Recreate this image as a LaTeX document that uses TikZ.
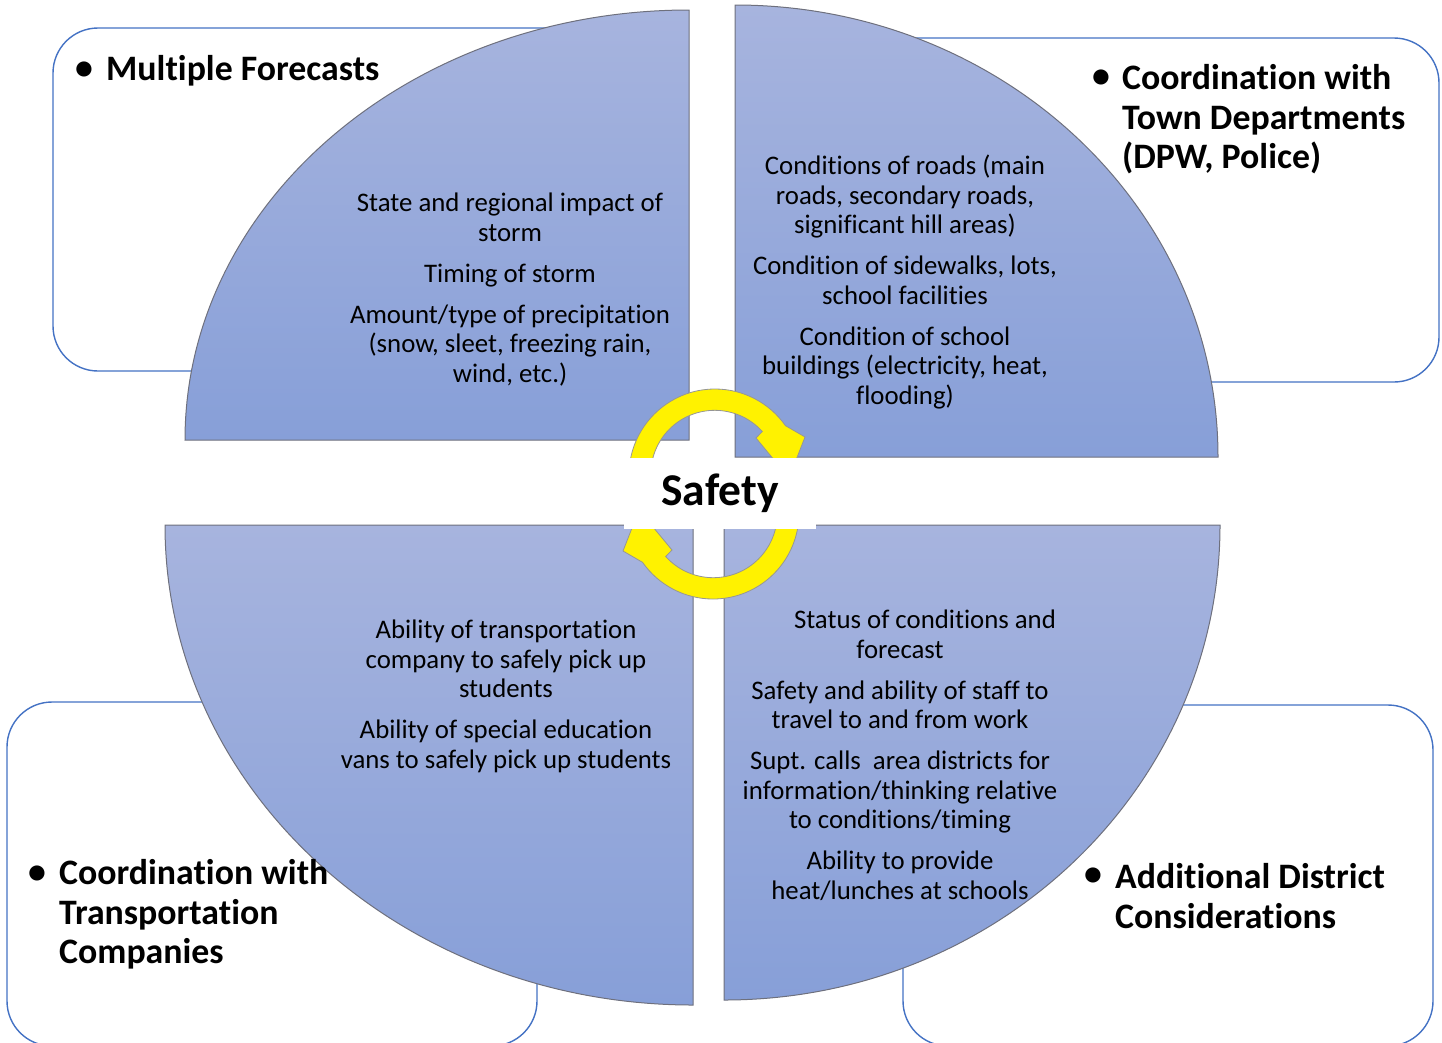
\documentclass[tikz,border=0pt]{standalone}
\usepackage{fontspec}
\setmainfont{Carlito}[Ligatures=NoCommon]
\definecolor{boxblue}{HTML}{4472C4}
\definecolor{qtop}{RGB}{167,180,222}
\definecolor{qbot}{RGB}{135,159,216}
\definecolor{qline}{RGB}{110,112,125}
\definecolor{arrowline}{RGB}{150,150,150}
\begin{document}
\begin{tikzpicture}[x=1pt,y=-1pt,
  outerbox/.style={draw=boxblue, line width=1.4pt, fill=white, rounded corners=45pt},
  quarter/.style={draw=qline, line width=1pt, top color=qtop, bottom color=qbot},
  cyc/.style={draw=arrowline, line width=0.8pt, fill=yellow},
  body/.style={align=center, font=\fontsize{26.8}{29.5}\selectfont, inner sep=0pt},
  head/.style={align=left, anchor=west, font=\bfseries\fontsize{35.8}{39.5}\selectfont, inner sep=0pt},
  bul/.style={font=\bfseries\fontsize{35.8}{40}\selectfont, inner sep=0pt}]
\useasboundingbox (0,0) rectangle (1442,1042);
\clip (0,0) rectangle (1442,1042);
% outer rounded boxes
\draw[outerbox] (53,28) rectangle (640,371);
\draw[outerbox] (800,38) rectangle (1439,382);
\draw[outerbox] (7,702) rectangle (537,1046);
\draw[outerbox] (903,705) rectangle (1433,1046);
% quarters
\path[quarter] (689,440) -- (185,440) arc[start angle=180, end angle=270, x radius=504, y radius=430] -- cycle;
\path[quarter] (735,457) -- (735,5) arc[start angle=270, end angle=360, x radius=483, y radius=452] -- cycle;
\path[quarter] (693,525) -- (165,525) arc[start angle=180, end angle=90, x radius=528, y radius=480] -- cycle;
\path[quarter] (724,525) -- (1220,525) arc[start angle=0, end angle=90, x radius=496, y radius=475] -- cycle;
% circular arrows
\path[cyc] (629,475) arc[start angle=180, end angle=325, radius=86] -- (805,437) -- (789,478) -- (756,438) -- (762.3,431.5) arc[start angle=318, end angle=180, radius=64] -- cycle;
\path[cyc] (799,513) arc[start angle=0, end angle=145, radius=86] -- (623,551) -- (639,510) -- (672,550) -- (665.7,556.5) arc[start angle=138, end angle=0, radius=64] -- cycle;
% centre label
\node[fill=white, inner sep=0pt, minimum width=192pt, minimum height=71pt, font=\bfseries\fontsize{45.5}{50}\selectfont] (safety) at (720,493) {Safety};
% body texts
\node[body] (tltext) at (510,289.5) {State and regional impact of\\ storm\\[11.5pt] Timing of storm\\[11.5pt] Amount/type of precipitation\\ (snow, sleet, freezing rain,\\ wind, etc.)};
\node[body] (trtext) at (905,282) {Conditions of roads (main\\ roads, secondary roads,\\ significant hill areas)\\[11.5pt] Condition of sidewalks, lots,\\ school facilities\\[11.5pt] Condition of school\\ buildings (electricity, heat,\\ flooding)};
\node[body] (bltext) at (506,696.5) {Ability of transportation\\ company to safely pick up\\ students\\[11.5pt] Ability of special education\\ vans to safely pick up students};
\node[body] (brtext) at (900,755) {\hspace*{50pt}Status of conditions and\\ forecast\\[11.5pt] Safety and ability of staff to\\ travel to and from work\\[11.5pt] Supt. calls\ \ area districts for\\ information/thinking relative\\ to conditions/timing\\[11.5pt] Ability to provide\\ heat/lunches at schools};
% headings
\node[bul] (tlbul) at (84,71) {•};
\node[head] (tlhead) at (106,71) {Multiple Forecasts};
\node[bul] (trbul) at (1101,79) {•};
\node[head] (trhead) at (1122,119.5) {Coordination with\\ Town Departments\\ (DPW, Police)};
\node[bul] (blbul) at (37,875) {•};
\node[head] (blhead) at (59,914.5) {Coordination with\\ Transportation\\ Companies};
\node[bul] (brbul) at (1093,877) {•};
\node[head] (brhead) at (1115,896) {Additional District\\ Considerations};
\end{tikzpicture}
\end{document}
